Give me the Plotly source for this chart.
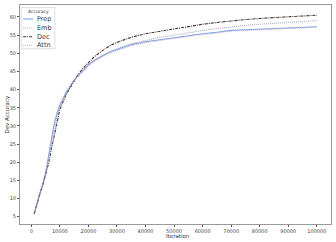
import plotly.graph_objects as go

iters = [1000, 2000, 3000, 4000, 5000, 6000, 7000, 8000, 9000, 10000,
         12000, 14000, 16000, 18000, 20000, 22000, 25000, 28000, 31000, 35000,
         40000, 45000, 50000, 55000, 60000, 65000, 70000, 75000, 80000, 85000,
         90000, 95000, 100000]

prep = [5.8, 9.0, 11.5, 14.0, 17.0, 21.5, 26.5, 30.5, 33.5, 35.8,
        39.0, 41.5, 43.5, 45.2, 46.8, 48.0, 49.4, 50.5, 51.4, 52.4,
        53.2, 53.8, 54.3, 54.9, 55.4, 55.8, 56.3, 56.5, 56.7, 56.8,
        57.0, 57.2, 57.3]
emb = [5.6, 8.9, 11.4, 13.9, 16.8, 21.0, 25.8, 29.8, 33.0, 35.4,
       38.8, 41.3, 43.3, 45.0, 46.5, 47.7, 49.1, 50.2, 51.1, 52.1,
       53.0, 53.6, 54.1, 54.7, 55.2, 55.6, 56.1, 56.3, 56.5, 56.7,
       56.9, 57.1, 57.2]
dec = [5.8, 8.8, 11.2, 13.6, 16.2, 19.5, 23.5, 27.5, 31.5, 34.5,
       38.3, 41.2, 43.7, 45.8, 47.5, 49.0, 50.8, 52.3, 53.3, 54.4,
       55.4, 56.1, 56.7, 57.4, 58.0, 58.5, 59.0, 59.3, 59.6, 59.8,
       60.0, 60.3, 60.5]
attn = [5.7, 8.9, 11.3, 13.8, 16.5, 20.3, 24.5, 28.5, 32.2, 35.0,
        38.6, 41.3, 43.5, 45.3, 46.8, 48.0, 49.5, 50.6, 51.6, 52.6,
        53.6, 54.4, 55.0, 55.7, 56.3, 56.8, 57.3, 57.7, 58.0, 58.3,
        58.6, 58.8, 59.0]

names = ['Prep', 'Emb', 'Dec', 'Attn']
x_ticks = [0, 10000, 20000, 30000, 40000, 50000, 60000, 70000, 80000, 90000, 100000]
x_labels = [str(v) for v in x_ticks]
y_ticks = [5, 10, 15, 20, 25, 30, 35, 40, 45, 50, 55, 60]

styles = [dict(color='#78a6e6', width=1.1, dash='solid'),
          dict(color='#c6a6d4', width=1.1, dash='1px,1px'),
          dict(color='#3f3333', width=1.1, dash='3px,1px,1px,1px'),
          dict(color='#a8a8c8', width=1.1, dash='1px,1px')]

fig = go.Figure()
for name, ys, st in zip(names, [prep, emb, dec, attn], styles):
    fig.add_trace(go.Scatter(x=iters, y=ys, name=name, mode='lines', line=st,
                             showlegend=False, hoverinfo='skip'))

axis_common = dict(showline=True, linecolor='#9a9a9a', linewidth=1, mirror=True,
                   showgrid=False, zeroline=False, ticks='outside', ticklen=2,
                   tickcolor='#555555', tickwidth=0.6, automargin=False,
                   tickfont=dict(size=5, color='#444444'))

# hand-made compact legend (plotly's own legend rows are too tall at this size)
shapes = [dict(type='rect', xref='paper', yref='paper', x0=0.004, x1=0.112,
               y0=0.800, y1=0.988, line=dict(color='#d0d0d0', width=0.7),
               fillcolor='white', layer='above')]
annotations = [dict(text='Accuracy', xref='paper', yref='paper', x=0.058, y=0.970,
                    xanchor='center', yanchor='middle',
                    showarrow=False, font=dict(size=4.5, color='#333333'))]
rows = [0.936, 0.895, 0.855, 0.816]
for name, st, ry in zip(names, styles, rows):
    shapes.append(dict(type='line', xref='paper', yref='paper', x0=0.010, x1=0.042,
                       y0=ry, y1=ry, line=st, layer='above'))
    annotations.append(dict(text=name, xref='paper', yref='paper', x=0.049, y=ry,
                            xanchor='left', yanchor='middle', showarrow=False,
                            font=dict(size=6.5, color='#333333')))

annotations.append(dict(text='Iteration', xref='paper', yref='paper', x=0.508, y=-0.055,
                        xanchor='center', yanchor='middle',
                        showarrow=False, font=dict(size=5.5, color='#333333')))
annotations.append(dict(text='Dev Accuracy', xref='paper', yref='paper', x=-0.040, y=0.498,
                        xanchor='center', yanchor='middle',
                        textangle=-90, showarrow=False,
                        font=dict(size=5.5, color='#333333')))

fig.update_layout(
    width=336, height=242,
    margin=dict(l=20, r=5, t=5, b=18),
    plot_bgcolor='white', paper_bgcolor='white',
    font=dict(family='DejaVu Sans', color='#333333'),
    xaxis=dict(range=[-3950, 104950], tickvals=x_ticks, ticktext=x_labels,
               **axis_common),
    yaxis=dict(range=[3.0, 63.3], tickvals=y_ticks, **axis_common),
    shapes=shapes,
    annotations=annotations,
    showlegend=False,
    hovermode=False,
)

# the page body has a default 8px margin; drop it so the figure sits at the corner
fig.write_html("out.html", config={'displayModeBar': False},
               post_script="document.body.style.margin='0';")
